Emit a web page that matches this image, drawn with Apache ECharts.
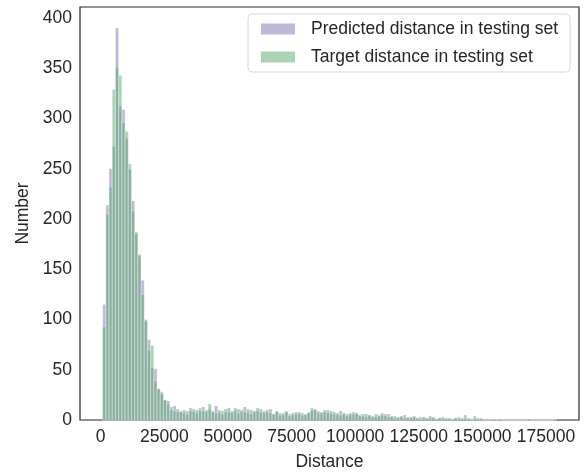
<!DOCTYPE html>
<html>
<head>
<meta charset="utf-8">
<script src="https://cdn.jsdelivr.net/npm/echarts@6/dist/echarts.min.js"></script>
<style>
  html, body { margin: 0; padding: 0; background: #fff; }
  #chart { width: 587px; height: 476px; }
</style>
</head>
<body>
<div id="chart"></div>
<script>
// histogram bins (shared by both series)
const BIN_START = 795
const BIN_WIDTH = 1255.3

// counts per bin
const predicted = [
  115, 214, 250, 272, 390, 312, 309, 280, 249, 218, 185, 163, 139, 98, 80, 52, 51, 31, 28, 20, 19,
  10, 14, 8, 9, 7, 9, 12, 8, 10, 9, 13, 8, 11, 9, 14, 7, 9, 8, 12, 7, 9, 11, 8, 13, 7, 10, 8, 9, 11,
  7, 10, 11, 6, 8, 7, 5, 9, 6, 5, 8, 6, 7, 5, 8, 9, 11, 7, 8, 10, 7, 6, 8, 5, 9, 7, 6, 5, 8, 6,
  4, 6, 3, 5, 4, 3, 5, 7, 4, 6, 3, 4, 2, 3, 5, 2, 3, 4, 2, 3, 2, 1, 4, 2, 1, 2, 3, 1, 2,
  1, 2, 3, 1, 1, 2, 0, 1, 2, 2, 1, 0, 1, 1, 0, 1, 0, 1, 0, 0, 0, 0, 0, 0, 1, 0, 0, 0, 0, 0, 0, 0, 1
]
const target = [
  93, 205, 232, 329, 351, 343, 296, 287, 255, 208, 187, 165, 125, 100, 70, 74, 39, 31, 26, 20, 16,
  13, 9, 11, 8, 10, 6, 9, 11, 7, 12, 9, 10, 16, 8, 7, 10, 6, 11, 8, 9, 12, 7, 10, 8, 11, 6, 9, 12, 8,
  9, 8, 7, 6, 9, 5, 7, 8, 4, 7, 6, 8, 5, 6, 7, 12, 10, 9, 7, 8, 10, 9, 6, 7, 5, 6, 4, 7, 6, 7,
  5, 4, 6, 5, 3, 6, 4, 5, 6, 3, 4, 2, 3, 4, 2, 3, 2, 3, 2, 1, 3, 2, 2, 3, 1, 2, 1, 2, 1,
  1, 2, 1, 2, 5, 1, 1, 4, 1, 1, 0, 1, 0, 1, 0, 1, 0, 0, 0, 0, 0, 0, 0, 0, 1, 0, 0, 0, 0, 0, 0, 0, 1
]
const xTicks = [0, 25000, 50000, 75000, 100000, 125000, 150000, 175000]
const yTicks = [0, 50, 100, 150, 200, 250, 300, 350, 400]

const PURPLE = '#8172b3'
const GREEN = '#55a868'
const INK = '#262626'
const FONT = 'Liberation Sans, Arial, sans-serif'

function bins(counts) {
  return counts.map((c, i) => [BIN_START + i * BIN_WIDTH, BIN_START + (i + 1) * BIN_WIDTH, c])
}

function barRenderer(color) {
  return function (params, api) {
    const a = api.coord([api.value(0), api.value(2)])
    const b = api.coord([api.value(1), 0])
    return {
      type: 'rect',
      shape: { x: a[0], y: a[1], width: b[0] - a[0], height: b[1] - a[1] },
      style: { fill: color, stroke: '#fff', lineWidth: 0.6, opacity: 0.5 }
    }
  }
}

const chart = echarts.init(document.getElementById('chart'), null, { renderer: 'canvas' })
chart.setOption({
  animation: false,
  textStyle: { fontFamily: FONT },
  grid: { left: 80, right: 8, top: 7, bottom: 55, show: true, borderColor: INK, borderWidth: 1.2, backgroundColor: 'transparent' },
  legend: {
    orient: 'vertical', left: 248, top: 14,
    padding: [6, 12, 6, 13], itemGap: 10, itemWidth: 34, itemHeight: 11,
    backgroundColor: 'rgba(255,255,255,0.8)', borderColor: '#d6d6d6', borderWidth: 1, borderRadius: 4,
    textStyle: { fontSize: 17.5, color: INK, fontFamily: FONT, padding: [0, 0, 0, 11] },
    data: [
      { name: 'Predicted distance in testing set', icon: 'rect', itemStyle: { color: '#c0b8d9' } },
      { name: 'Target distance in testing set', icon: 'rect', itemStyle: { color: '#aad4b3' } }
    ]
  },
  xAxis: {
    type: 'value', min: -8118, max: 187960,
    name: 'Distance', nameLocation: 'middle', nameGap: 33,
    nameTextStyle: { fontSize: 17.5, color: INK, fontFamily: FONT },
    axisLine: { show: false }, axisTick: { show: false }, splitLine: { show: false },
    axisLabel: { customValues: xTicks, formatter: v => String(v), fontSize: 17.5, color: INK, margin: 8, fontFamily: FONT }
  },
  yAxis: {
    type: 'value', min: 0, max: 411,
    name: 'Number', nameLocation: 'middle', nameGap: 46,
    nameTextStyle: { fontSize: 17.5, color: INK, fontFamily: FONT },
    axisLine: { show: false }, axisTick: { show: false }, splitLine: { show: false },
    axisLabel: { customValues: yTicks, formatter: v => String(v), fontSize: 17.5, color: INK, margin: 8, fontFamily: FONT }
  },
  series: [
    { name: 'Predicted distance in testing set', type: 'custom', color: PURPLE,
      renderItem: barRenderer(PURPLE), encode: { x: [0, 1], y: 2 }, data: bins(predicted) },
    { name: 'Target distance in testing set', type: 'custom', color: GREEN,
      renderItem: barRenderer(GREEN), encode: { x: [0, 1], y: 2 }, data: bins(target) }
  ]
})
</script>
</body>
</html>
